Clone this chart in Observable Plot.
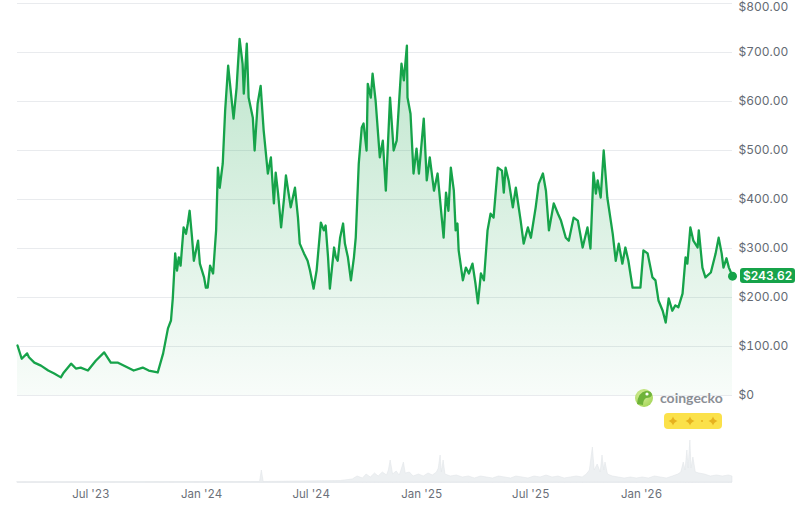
<!DOCTYPE html>
<html>
<head>
<meta charset="utf-8">
<script src="https://cdn.jsdelivr.net/npm/d3@7"></script>
<script src="https://cdn.jsdelivr.net/npm/@observablehq/plot@0.6"></script>
<style>
  html, body { margin: 0; padding: 0; background: #fff; }
  #wrap { position: relative; width: 800px; height: 507px; overflow: hidden; font-family: Inter, Roboto, sans-serif; }
  #wrap > svg { position: absolute; left: 0; }
  #priceTag { position: absolute; background: #16a34a; color: #fff; font: 600 12px Inter, Roboto, sans-serif; line-height: 15px; height: 15px; padding: 0 3px; border-radius: 3px; }
</style>
</head>
<body>
<div id="wrap"></div>
<script>
// ---- price series (USD) ----
const dates = [
"2023-03-01","2023-03-08","2023-03-17","2023-03-20","2023-03-29","2023-04-09","2023-04-21","2023-05-01","2023-05-12","2023-05-17",
"2023-05-29","2023-06-06","2023-06-14","2023-06-26","2023-07-09","2023-07-23","2023-08-03","2023-08-15","2023-08-31","2023-09-10",
"2023-09-25","2023-10-05","2023-10-20","2023-10-29","2023-11-06","2023-11-11","2023-11-14","2023-11-18","2023-11-21","2023-11-24",
"2023-11-27","2023-12-02","2023-12-06","2023-12-09","2023-12-12","2023-12-16","2023-12-19","2023-12-26","2023-12-29","2024-01-05",
"2024-01-08","2024-01-11","2024-01-15","2024-01-20","2024-01-25","2024-01-28","2024-01-31","2024-02-05","2024-02-09","2024-02-14",
"2024-02-17","2024-02-23","2024-02-28","2024-03-01","2024-03-04","2024-03-09","2024-03-11","2024-03-16","2024-03-19","2024-03-26",
"2024-03-29","2024-04-03","2024-04-08","2024-04-13","2024-04-20","2024-04-25","2024-04-30","2024-05-03","2024-05-07","2024-05-12",
"2024-05-17","2024-05-20","2024-05-23","2024-05-28","2024-06-04","2024-06-09","2024-06-12","2024-06-19","2024-06-25","2024-06-29",
"2024-07-05","2024-07-10","2024-07-17","2024-07-22","2024-07-25","2024-07-29","2024-08-01","2024-08-08","2024-08-11","2024-08-14",
"2024-08-18","2024-08-23","2024-08-26","2024-08-31","2024-09-05","2024-09-10","2024-09-13","2024-09-18","2024-09-23","2024-09-26",
"2024-10-01","2024-10-03","2024-10-08","2024-10-11","2024-10-16","2024-10-23","2024-10-28","2024-11-02","2024-11-09","2024-11-15",
"2024-11-20","2024-11-28","2024-12-02","2024-12-07","2024-12-08","2024-12-13","2024-12-18","2024-12-23","2024-12-27","2025-01-04",
"2025-01-09","2025-01-14","2025-01-21","2025-01-27","2025-02-06","2025-02-10","2025-02-14","2025-02-18","2025-02-23","2025-02-26",
"2025-03-01","2025-03-03","2025-03-10","2025-03-15","2025-03-20","2025-03-26","2025-03-31","2025-04-04","2025-04-09","2025-04-14",
"2025-04-20","2025-04-25","2025-04-30","2025-05-07","2025-05-14","2025-05-17","2025-05-20","2025-05-25","2025-06-01","2025-06-06",
"2025-06-14","2025-06-19","2025-06-26","2025-07-01","2025-07-09","2025-07-14","2025-07-21","2025-07-26","2025-07-31","2025-08-08",
"2025-08-15","2025-08-20","2025-08-28","2025-09-02","2025-09-10","2025-09-17","2025-09-25","2025-10-03","2025-10-08","2025-10-13",
"2025-10-17","2025-10-20","2025-10-25","2025-10-30","2025-11-05","2025-11-14","2025-11-19","2025-11-24","2025-11-30","2025-12-05",
"2025-12-10","2025-12-17","2025-12-25","2025-12-30","2026-01-04","2026-01-11","2026-01-19","2026-01-24","2026-01-29","2026-02-05",
"2026-02-10","2026-02-15","2026-02-21","2026-02-26","2026-03-03","2026-03-10","2026-03-15","2026-03-18","2026-03-23","2026-03-28",
"2026-04-04","2026-04-06","2026-04-12","2026-04-17","2026-04-26","2026-05-04","2026-05-09","2026-05-14","2026-05-17","2026-05-22",
"2026-05-26","2026-06-01"
];
const prices = [
102,75,86,78,67,61,51,45,37,47,
65,55,57,51,71,88,67,67,57,51,
57,51,47,86,137,153,198,290,255,282,
265,343,330,351,377,322,275,316,269,241,
220,220,265,249,337,465,424,473,581,673,
637,565,628,669,728,677,616,718,608,567,
500,596,632,541,453,486,392,455,412,343,
404,449,424,384,424,363,310,290,275,255,
218,255,353,337,347,282,218,302,282,275,
322,351,310,282,235,282,322,473,547,555,
500,636,608,657,602,486,520,418,608,500,
520,677,643,714,608,575,453,504,453,565,
439,486,418,453,322,414,377,465,418,337,
351,296,235,261,249,269,228,188,249,235,
337,371,363,465,459,414,465,439,384,424,
357,310,343,322,384,432,453,418,337,392,
371,357,322,316,363,357,302,343,300,455,
412,439,404,500,404,330,275,310,269,302,
275,220,220,220,296,290,241,235,194,173,
149,198,173,184,180,208,282,269,343,316,
302,337,261,241,251,290,322,290,261,280,
261,243.62
];

// ---- trading volume (relative units) ----
const volDates = [
"2023-03-01","2024-03-23","2024-04-07","2024-04-10","2024-04-13","2024-06-14","2024-08-19","2024-09-08","2024-09-16","2024-09-25",
"2024-10-01","2024-10-08","2024-10-15","2024-10-21","2024-10-28","2024-11-04","2024-11-07","2024-11-10","2024-11-14","2024-11-20",
"2024-11-25","2024-11-28","2024-12-02","2024-12-05","2024-12-12","2024-12-18","2024-12-27","2025-01-04","2025-01-12","2025-01-19",
"2025-01-26","2025-01-29","2025-02-01","2025-02-03","2025-02-06","2025-02-09","2025-02-18","2025-02-28","2025-03-10","2025-03-20",
"2025-03-30","2025-04-09","2025-04-19","2025-04-29","2025-05-09","2025-05-19","2025-05-29","2025-06-07","2025-06-17","2025-06-27",
"2025-07-07","2025-07-17","2025-07-27","2025-08-06","2025-08-16","2025-08-26","2025-09-05","2025-09-15","2025-09-25","2025-10-02",
"2025-10-07","2025-10-12","2025-10-15","2025-10-20","2025-10-25","2025-10-28","2025-10-31","2025-11-02","2025-11-06","2025-11-14",
"2025-11-24","2025-12-04","2025-12-14","2025-12-24","2026-01-03","2026-01-13","2026-01-23","2026-02-02","2026-02-12","2026-02-22",
"2026-03-03","2026-03-08","2026-03-12","2026-03-15","2026-03-18","2026-03-20","2026-03-23","2026-03-25","2026-03-28","2026-04-01",
"2026-04-07","2026-04-16","2026-04-26","2026-05-06","2026-05-16","2026-05-26","2026-06-01"
];
const volumes = [
0.3,0.5,0.5,12,0.5,1,1.5,3,6,4,
8,5,9,6,10,7,12,22,8,11,
7,12,20,9,10,6,8,6,9,7,
10,14,27,10,22,8,6,7,5,6,
4,6,5,4,6,5,4,6,5,4,
6,5,7,5,6,4,5,6,5,8,
12,35,12,18,10,27,12,20,8,6,
5,4,5,4,5,4,6,5,4,6,
8,10,20,12,32,14,42,14,25,10,
9,8,6,7,6,7,6
];

// ---- axes ----
const yTicks = [0, 100, 200, 300, 400, 500, 600, 700, 800];
const xTickDates = ["2023-07-01","2024-01-01","2024-07-01","2025-01-01","2025-07-01","2026-01-01"];
const xDomainDates = ["2023-03-01","2026-06-01"];
const lastPriceLabel = "$243.62";

const green = "#16a34a";
const parse = d3.utcParse("%Y-%m-%d");
const data = dates.map((d, i) => ({date: parse(d), price: prices[i]}));
const vol = volDates.map((d, i) => ({date: parse(d), volume: volumes[i]}));
const xDomain = xDomainDates.map(parse);
const xTicks = xTickDates.map(parse);
const last = data[data.length - 1];
const fmtY = v => v === 0 ? "$0" : "$" + d3.format(",.2f")(v);
const yMax = d3.max(yTicks);

const wrap = document.getElementById("wrap");

const main = Plot.plot({
  width: 800, height: 400,
  marginTop: 3, marginBottom: 5, marginLeft: 17, marginRight: 68,
  style: {fontFamily: "Inter, Roboto, sans-serif", fontSize: "12px", background: "transparent", overflow: "visible"},
  x: {type: "utc", domain: xDomain, axis: null},
  y: {domain: [0, yMax]},
  marks: [
    Plot.gridY(yTicks, {stroke: "#e9ebee", strokeOpacity: 1}),
    Plot.axisY(yTicks.filter(t => t < yMax), {anchor: "right", tickSize: 0, tickPadding: 6, tickFormat: fmtY, fill: "#646a73", label: null}),
    Plot.axisY([yMax], {anchor: "right", tickSize: 0, tickPadding: 6, tickFormat: fmtY, fill: "#646a73", label: null, dy: 4}),
    Plot.areaY(data, {x: "date", y: "price", fill: "url(#priceGrad)"}),
    Plot.lineY(data, {x: "date", y: "price", stroke: green, strokeWidth: 2.3, strokeLinejoin: "round"}),
    Plot.dot([last], {x: "date", y: "price", r: 4.5, fill: green})
  ]
});
d3.select(main).insert("defs", ":first-child").html(
  `<linearGradient id="priceGrad" x1="0" y1="0" x2="0" y2="1">
     <stop offset="0" stop-color="${green}" stop-opacity="0.28"/>
     <stop offset="1" stop-color="${green}" stop-opacity="0.03"/>
   </linearGradient>`);
main.style.top = "0px";
wrap.appendChild(main);

const volPlot = Plot.plot({
  width: 800, height: 107,
  marginTop: 40, marginBottom: 25, marginLeft: 17, marginRight: 68,
  style: {fontFamily: "Inter, Roboto, sans-serif", fontSize: "11.5px", background: "transparent", color: "#6b7079"},
  x: {type: "utc", domain: xDomain, ticks: xTicks, tickFormat: d3.utcFormat("%b '%y"), tickSize: 0, tickPadding: 7, label: null},
  y: {domain: [0, 42], axis: null},
  marks: [
    Plot.ruleY([0], {stroke: "#eceef1"}),
    Plot.areaY(vol, {x: "date", y: "volume", fill: "#edf0f2", stroke: "#e2e6ea", strokeWidth: 0.6})
  ]
});
volPlot.style.top = "400px";
wrap.appendChild(volPlot);

// price tag positioned through the plot's scales
const px = main.scale("x").apply(last.date);
const py = main.scale("y").apply(last.price);
const tag = document.createElement("div");
tag.id = "priceTag";
tag.textContent = lastPriceLabel;
tag.style.left = (px + 8) + "px";
tag.style.top = (py - 7.5) + "px";
wrap.appendChild(tag);

// CoinGecko watermark
const wm = document.createElementNS("http://www.w3.org/2000/svg", "svg");
wm.setAttribute("width", 800); wm.setAttribute("height", 507);
wm.style.position = "absolute"; wm.style.left = "0"; wm.style.top = "0"; wm.style.pointerEvents = "none";
const star = (cx, cy, s) => `M${cx},${cy - s} Q${cx + 1},${cy - 1} ${cx + s},${cy} Q${cx + 1},${cy + 1} ${cx},${cy + s} Q${cx - 1},${cy + 1} ${cx - s},${cy} Q${cx - 1},${cy - 1} ${cx},${cy - s}Z`;
wm.innerHTML = `
  <defs><radialGradient id="gk" cx="0.4" cy="0.35" r="0.7">
    <stop offset="0" stop-color="#d7ee9a"/><stop offset="1" stop-color="#a5d65a"/></radialGradient></defs>
  <circle cx="644" cy="398" r="9" fill="url(#gk)"/>
  <path d="M637,404 Q638,392 646,391 Q652,391 652,395 Q651,398 646,398 Q643,400 643,405 Z" fill="#6fb33a"/>
  <circle cx="647" cy="394" r="1.6" fill="#fff"/>
  <text x="660" y="403" font-family="Lato, 'Open Sans', sans-serif" font-weight="700" font-size="14" fill="#8a8e95">coingecko</text>
  <rect x="664" y="413" width="58" height="16" rx="4" fill="#fbe14a"/>
  <path d="${star(673, 421, 4.5)}" fill="#e6b21e"/>
  <path d="${star(690, 421, 4.5)}" fill="#e6b21e"/>
  <circle cx="702" cy="421" r="1" fill="#e6b21e"/>
  <path d="${star(713, 421, 4.5)}" fill="#e6b21e"/>
`;
wrap.appendChild(wm);
</script>
</body>
</html>
